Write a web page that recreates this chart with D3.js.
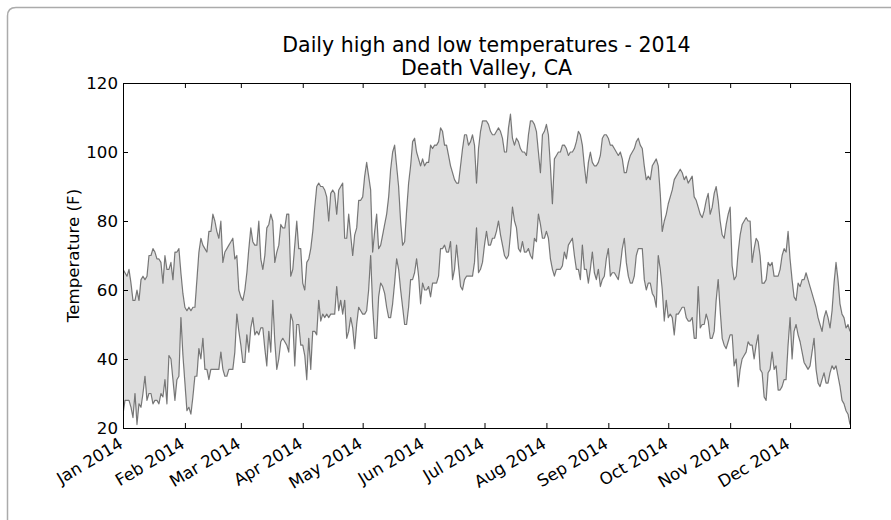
<!DOCTYPE html>
<html>
<head>
<meta charset="utf-8">
<script src="https://cdn.jsdelivr.net/npm/d3@7/dist/d3.min.js"></script>
<style>
  html, body { margin: 0; padding: 0; background: #fff; }
  svg { display: block; font-family: "DejaVu Sans", sans-serif; }
</style>
</head>
<body>
<svg id="chart" width="891" height="520"></svg>
<script>
// Daily temperatures, Death Valley, CA, 1 Jan 2014 .. 31 Dec 2014 (°F)
const firstDay = "2014-01-01";

const highs = [
  66,65,64,66,62,57,57,60,57,63, 64,63,64,70,70,72,71,69,69,68,
  62,70,66,66,68,63,71,71,72,65, 59,55,54,55,54,55,55,63,71,75,
  73,72,71,77,77,82,80,77,75,80, 68,71,72,73,74,75,69,70,60,58,
  57,60,65,72,78,74,73,73,80,69, 66,70,78,79,82,80,68,71,73,79,
  78,78,82,82,64,66,73,80,72,72, 62,60,68,69,72,77,84,90,91,90,
  90,89,87,80,88,89,88,82,89,90, 91,75,75,82,76,70,76,78,86,86,
  87,93,97,93,89,71,77,82,72,73, 76,79,82,87,95,100,102,96,90,80,
  73,74,83,91,96,103,104,100,98,96, 98,96,97,97,102,101,102,102,103,107,
  106,102,102,99,96,94,92,91,91,96, 101,105,105,102,103,105,102,91,101,106,
  109,109,109,108,106,105,105,106,107,106, 104,100,100,107,111,104,102,104,103,101,
  100,100,99,105,109,109,108,106,100,94, 105,106,108,105,96,85,98,99,100,100,
  102,102,101,99,100,100,101,103,106,105, 102,96,91,97,100,97,96,96,97,99,
  104,105,105,104,102,102,101,100,99,100, 98,94,94,97,99,100,101,103,104,102,
  101,96,92,93,92,96,97,98,96,88, 77,80,82,85,87,89,92,93,94,95,
  94,92,93,91,92,93,87,86,84,82, 81,83,86,88,82,84,88,90,86,80,
  76,75,79,82,84,67,63,64,71,76, 79,80,81,80,80,68,72,75,74,70,
  62,62,63,68,67,68,64,64,64,66, 70,72,71,77,69,63,58,57,62,61,
  63,63,65,63,61,59,57,55,52,50, 48,52,54,52,49,54,62,68,63,56,
  53,52,49,50,48
];

const lows = [
  24,28,28,28,26,23,30,21,27,26, 30,35,28,30,30,27,28,28,27,30,
  29,34,27,41,40,34,28,34,35,52, 41,33,25,26,24,29,35,35,43,40,
  46,37,37,34,37,37,37,37,37,42, 37,35,35,37,37,37,42,53,48,44,
  39,39,47,42,49,52,47,48,47,49, 49,43,38,48,42,57,45,37,40,45,
  46,45,44,42,53,51,38,50,50,44, 44,41,34,46,37,48,48,47,57,51,
  53,52,53,52,53,53,53,61,54,57, 53,57,46,48,52,49,43,50,55,54,
  53,53,54,60,70,55,46,46,58,62, 61,59,55,52,52,56,62,69,66,60,
  55,50,50,55,63,63,65,69,64,56, 62,60,60,61,58,62,62,62,64,72,
  72,73,71,71,74,63,66,73,67,61, 60,63,64,64,64,64,68,78,65,66,
  68,73,77,73,73,75,75,77,80,76, 73,70,69,70,76,84,80,78,72,71,
  74,71,71,72,70,69,75,74,82,79, 75,75,77,75,69,66,64,66,66,66,
  67,71,69,73,74,75,70,66,66,63, 73,66,66,62,66,71,65,63,66,61,
  63,64,69,72,64,65,65,64,63,67, 72,75,68,64,62,62,64,70,72,72,
  72,63,60,62,62,59,58,55,70,66, 60,51,57,52,53,52,47,53,53,54,
  55,55,52,51,51,52,46,46,61,49, 50,50,53,51,46,46,48,57,63,54,
  46,44,43,45,47,47,38,40,32,37, 40,41,42,45,44,44,40,44,47,37,
  36,29,28,36,37,42,37,38,31,31, 32,34,34,44,52,40,48,50,47,45,
  42,39,38,37,38,42,46,37,33,32, 34,36,33,33,36,38,37,38,35,32,
  28,27,25,24,21
];

const yTicks = [20, 40, 60, 80, 100, 120];
const monthTicks = [
  "2014-01-01","2014-02-01","2014-03-01","2014-04-01","2014-05-01","2014-06-01",
  "2014-07-01","2014-08-01","2014-09-01","2014-10-01","2014-11-01","2014-12-01"
];
const titleLines = ["Daily high and low temperatures - 2014", "Death Valley, CA"];
const yLabel = "Temperature (F)";

const parse = d3.utcParse("%Y-%m-%d");
const day0 = parse(firstDay);
const dates = highs.map((_, i) => d3.utcDay.offset(day0, i));
const rows = dates.map((d, i) => ({ date: d, high: highs[i], low: lows[i] }));

const svg = d3.select("#chart");
const plot = { left: 123, right: 850, top: 83, bottom: 428 };

// figure outline (rounded top-left corner)
svg.append("path")
  .attr("d", "M7.5,520 V16 Q7.5,7.5 16,7.5 H891")
  .attr("fill", "none")
  .attr("stroke", "#ababab")
  .attr("stroke-width", 1.5);

const x = d3.scaleUtc().domain(d3.extent(dates)).range([plot.left, plot.right]);
const y = d3.scaleLinear().domain([20, 120]).range([plot.bottom, plot.top]);

svg.append("clipPath").attr("id", "plotClip")
  .append("rect")
  .attr("x", plot.left).attr("y", plot.top)
  .attr("width", plot.right - plot.left).attr("height", plot.bottom - plot.top);

const g = svg.append("g").attr("clip-path", "url(#plotClip)");

// band between the daily low and high
g.append("path")
  .datum(rows)
  .attr("fill", "rgba(0,0,0,0.13)")
  .attr("d", d3.area()
    .x(d => x(d.date))
    .y0(d => y(d.low))
    .y1(d => y(d.high)));

const lineStyle = sel => sel
  .attr("fill", "none")
  .attr("stroke", "rgba(0,0,0,0.5)")
  .attr("stroke-width", 1.2)
  .attr("stroke-linejoin", "round");

g.append("path").datum(rows).call(lineStyle)
  .attr("d", d3.line().x(d => x(d.date)).y(d => y(d.high)));
g.append("path").datum(rows).call(lineStyle)
  .attr("d", d3.line().x(d => x(d.date)).y(d => y(d.low)));

// axes: inward ticks on all four sides
const tickFont = 16.67;
const monthDates = monthTicks.map(parse);

const styleAxis = sel => {
  sel.select(".domain").remove();
  sel.selectAll(".tick line").attr("stroke", "#000").attr("stroke-width", 1);
  sel.selectAll(".tick text")
    .attr("fill", "#000")
    .style("font-size", tickFont + "px")
    .style("font-family", '"DejaVu Sans", sans-serif');
};

svg.append("g")
  .attr("transform", `translate(${plot.left},0)`)
  .call(d3.axisLeft(y).tickValues(yTicks).tickSize(-5).tickPadding(5).tickFormat(d3.format("d")))
  .call(styleAxis);

svg.append("g")
  .attr("transform", `translate(${plot.right},0)`)
  .call(d3.axisRight(y).tickValues(yTicks).tickSize(-5).tickFormat(""))
  .call(styleAxis);

svg.append("g")
  .attr("transform", `translate(0,${plot.top})`)
  .call(d3.axisTop(x).tickValues(monthDates).tickSize(-5).tickFormat(""))
  .call(styleAxis);

const xAxis = svg.append("g")
  .attr("transform", `translate(0,${plot.bottom})`)
  .call(d3.axisBottom(x).tickValues(monthDates).tickSize(-5).tickFormat(d3.utcFormat("%b %Y")))
  .call(styleAxis);

xAxis.selectAll(".tick text")
  .attr("text-anchor", "end")
  .attr("x", -6)
  .attr("y", 8)
  .attr("dy", "0.76em")
  .attr("transform", "rotate(-31,-6,8)");

// plot frame
svg.append("rect")
  .attr("x", plot.left + 0.5).attr("y", plot.top + 0.5)
  .attr("width", plot.right - plot.left).attr("height", plot.bottom - plot.top)
  .attr("fill", "none")
  .attr("stroke", "#000")
  .attr("stroke-width", 1);

// y-axis label
svg.append("text")
  .attr("transform", `translate(79,${(plot.top + plot.bottom) / 2}) rotate(-90)`)
  .attr("text-anchor", "middle")
  .style("font-size", tickFont + "px")
  .text(yLabel);

// title
const cx = (plot.left + plot.right) / 2;
svg.append("text")
  .attr("text-anchor", "middle")
  .style("font-size", "20.5px")
  .selectAll("tspan")
  .data(titleLines)
  .join("tspan")
  .attr("x", cx)
  .attr("y", (d, i) => 52 + i * 23)
  .text(d => d);
</script>
</body>
</html>
